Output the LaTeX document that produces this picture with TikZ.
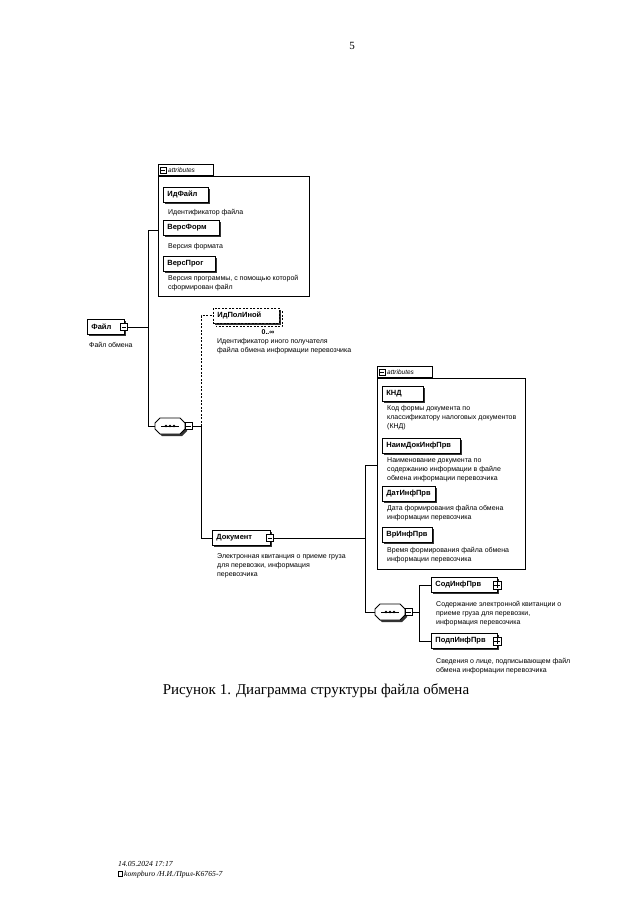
\documentclass[tikz,border=0pt]{standalone}
\usepackage{fontspec}
\setmainfont{Liberation Serif}
\newfontfamily\dsans{Liberation Sans}
\usetikzlibrary{calc,shadows}
\tikzset{
 elem/.style={draw, line width=0.8pt, fill=white, font=\dsans\bfseries\fontsize{7.5}{8}\selectfont, anchor=west, minimum height=15pt, inner xsep=4pt, inner ysep=0pt, align=left, drop shadow={shadow xshift=1.8pt, shadow yshift=-1.8pt, fill=black!80, opacity=1}},
 desc/.style={font=\dsans\fontsize{7}{9}\selectfont, anchor=base west, inner sep=0pt, align=left},
 conn/.style={line width=0.8pt},
 dconn/.style={line width=0.8pt, dash pattern=on 2pt off 1.5pt},
 sq/.style={draw, line width=0.6pt, fill=white, minimum size=7pt, inner sep=0pt},
 minussq/.style={sq, path picture={\draw[line width=0.6pt] ($(path picture bounding box.west)+(1.3pt,0)$) -- ($(path picture bounding box.east)+(-1.3pt,0)$);}},
 plussq/.style={sq, path picture={\draw[line width=0.6pt] ($(path picture bounding box.west)+(1.3pt,0)$) -- ($(path picture bounding box.east)+(-1.3pt,0)$) ($(path picture bounding box.north)+(0,-1.3pt)$) -- ($(path picture bounding box.south)+(0,1.3pt)$);}},
 abox/.style={draw, line width=0.8pt, fill=white, anchor=north west, inner sep=0pt},
 atab/.style={draw, line width=0.8pt, fill=white, anchor=south west, inner sep=0pt, minimum width=55pt, minimum height=11pt},
 tabtxt/.style={font=\dsans\itshape\fontsize{6.5}{7}\selectfont, anchor=west, inner sep=0pt},
 seqnode/.style={minimum width=30pt, minimum height=16pt, inner sep=0pt}
}
\newcommand\seqdraw[1]{%
\fill[black!80] ($(#1)+(-13,-1)$) -- ($(#1)+(-8,-6)$) -- ($(#1)+(12,-6)$) -- ($(#1)+(17,-1)$) -- ($(#1)+(17,5)$) -- ($(#1)+(12,10)$) -- ($(#1)+(-8,10)$) -- ($(#1)+(-13,5)$) -- cycle;
\draw[line width=0.8pt, fill=white] ($(#1)+(-15,-3)$) -- ($(#1)+(-10,-8)$) -- ($(#1)+(10,-8)$) -- ($(#1)+(15,-3)$) -- ($(#1)+(15,3)$) -- ($(#1)+(10,8)$) -- ($(#1)+(-10,8)$) -- ($(#1)+(-15,3)$) -- cycle;
\draw[line width=0.6pt] ($(#1)+(-9,0)$) -- ($(#1)+(9,0)$);
\foreach \d in {-4,0,4} \fill ($(#1)+(\d,0)$) circle (1.3pt);
}
\begin{document}
\begin{tikzpicture}[x=1pt,y=-1pt]
\fill[white] (0,0) rectangle (640,905);
\useasboundingbox (0,0) rectangle (640,905);

\node[font=\fontsize{11}{13}\selectfont] (pnum) at (352,46) {5};

% attributes box 1
\node[atab] (tab1) at (158,176) {};
\node[abox, minimum width=151pt, minimum height=120pt] (att1) at (158,176) {};
\node[minussq, minimum size=6pt] (tab1sq) at (163,170.5) {};
\node[tabtxt] (tab1t) at (168,170.5) {attributes};
\node[elem, text width=37pt] (idf) at (163,194.5) {ИдФайл};
\node[desc] (idfd) at (168,214.5) {Идентификатор файла};
\node[elem, text width=48pt] (vf) at (163,227.5) {ВерсФорм};
\node[desc] (vfd) at (168,248) {Версия формата};
\node[elem, text width=44pt] (vp) at (163,263.5) {ВерсПрог};
\node[desc] (vpd) at (168,289) {Версия программы, с помощью которой\\сформирован файл};

% root
\node[elem, text width=29pt] (file) at (87,327) {Файл};
\node[minussq] (filesq) at (124,327) {};
\node[desc] (filed) at (89,347) {Файл обмена};

% sequence 1
\coordinate (j1t) at (148,230);
\coordinate (j1) at (148,327);
\coordinate (j1b) at (148,426);
\node[seqnode] (seq1) at (170,426) {};
\draw[conn] (filesq.east) -- (j1);
\draw[conn] (j1t -| att1.west) -- (j1t) -- (j1b) -- (seq1.west);
\seqdraw{seq1}
\node[minussq] (seq1sq) at (188.5,426) {};
\coordinate (v1) at (201,426);

% ИдПолИной
\draw[line width=0.8pt, dash pattern=on 2pt off 1.5pt] (216,311.5) rectangle (282,326.5);
\node[elem, text width=58pt, dash pattern=on 2pt off 1.5pt, drop shadow={opacity=0}] (idpol) at (213,315.5) {ИдПолИной};
\node[font=\dsans\bfseries\fontsize{7}{8}\selectfont, inner sep=0pt] (occ) at (268,332) {0..∞};
\node[desc] (idpold) at (217,352) {Идентификатор иного получателя\\файла обмена информации перевозчика};
\draw[conn] (seq1sq.east) -- (v1);
\draw[dconn] (v1) |- (idpol.west);

% Документ
\node[elem, text width=50pt] (doc) at (212,538) {Документ};
\node[minussq] (docsq) at (270,538) {};
\node[desc] (docd) at (217,576.5) {Электронная квитанция о приеме груза\\для перевозки, информация\\перевозчика};
\draw[conn] (v1) |- (doc.west);

% attributes box 2
\node[atab] (tab2) at (377,378) {};
\node[abox, minimum width=148pt, minimum height=191pt] (att2) at (377,378) {};
\node[minussq, minimum size=6pt] (tab2sq) at (382,372.5) {};
\node[tabtxt] (tab2t) at (387,372.5) {attributes};
\node[elem, text width=33pt] (knd) at (382,393.5) {КНД};
\node[desc] (kndd) at (387,428) {Код формы документа по\\классификатору налоговых документов\\(КНД)};
\node[elem, text width=70pt] (naim) at (382,445.5) {НаимДокИнфПрв};
\node[desc] (naimd) at (387,480.5) {Наименование документа по\\содержанию информации в файле\\обмена информации перевозчика};
\node[elem, text width=45pt] (dat) at (382,493.5) {ДатИнфПрв};
\node[desc] (datd) at (387,519.5) {Дата формирования файла обмена\\информации перевозчика};
\node[elem, text width=42pt] (vr) at (382,534.5) {ВрИнфПрв};
\node[desc] (vrd) at (387,561.5) {Время формирования файла обмена\\информации перевозчика};

% sequence 2
\coordinate (v2) at (365,538);
\coordinate (v2t) at (365,465);
\coordinate (v2b) at (365,612);
\node[seqnode] (seq2) at (390,612) {};
\draw[conn] (docsq.east) -- (v2);
\draw[conn] (v2t -| att2.west) -- (v2t) -- (v2b) -- (seq2.west);
\seqdraw{seq2}
\node[minussq] (seq2sq) at (408.5,612) {};
\coordinate (v3) at (419,612);
\draw[conn] (seq2sq.east) -- (v3);

\node[elem, text width=58pt] (sod) at (431,585) {СодИнфПрв};
\node[plussq, minimum size=8pt] (sodsq) at (497,585) {};
\node[desc] (sodd) at (436,624.5) {Содержание электронной квитанции о\\приеме груза для перевозки,\\информация перевозчика};
\node[elem, text width=58pt] (podp) at (431,641) {ПодпИнфПрв};
\node[plussq, minimum size=8pt] (podpsq) at (497,641) {};
\node[desc] (podpd) at (436,672) {Сведения о лице, подписывающем файл\\обмена информации перевозчика};
\draw[conn] (v3) |- (sod.west);
\draw[conn] (v3) |- (podp.west);

% caption and footer
\node[font=\fontsize{15}{18}\selectfont] (cap) at (316,691) {Рисунок 1. Диаграмма структуры файла обмена};
\node[anchor=base west, font=\itshape\fontsize{7.7}{9}\selectfont, inner sep=0pt] (f1) at (118,866.5) {14.05.2024 17:17};
\node[draw, line width=0.4pt, minimum width=4.5pt, minimum height=5pt, inner sep=0pt] (ficon) at (120,873.5) {};
\node[anchor=base west, font=\itshape\fontsize{7.7}{9}\selectfont, inner sep=0pt] (f2) at (124,876) {kompburo /Н.И./Прил-К6765-7};
\end{tikzpicture}
\end{document}
